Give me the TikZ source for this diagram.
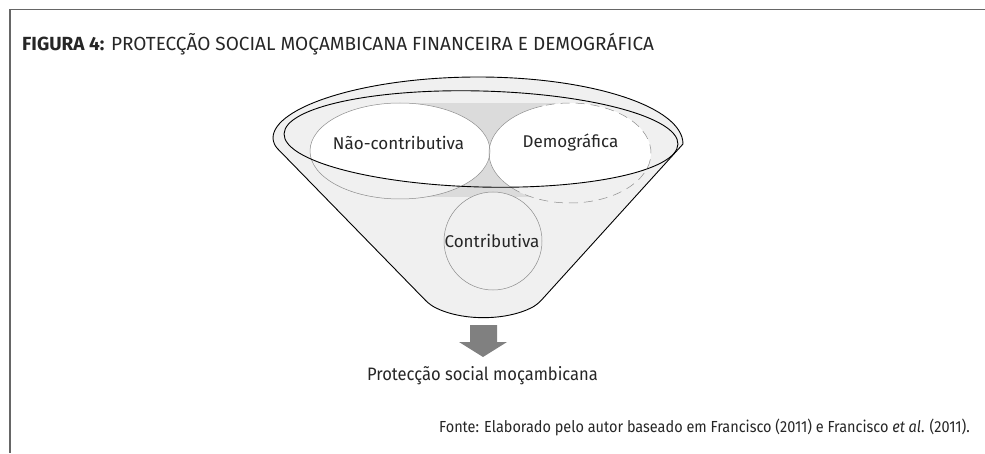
\documentclass[tikz,border=0pt]{standalone}
\usepackage{fontspec}
\setmainfont{Fira Sans}
\newfontfamily\condfont{Fira Sans}[FakeStretch=0.92]
\newfontfamily\srcfont{Fira Sans}[FakeStretch=0.905]
\begin{document}
\begin{tikzpicture}[x=1pt,y=1pt,
  lbl/.style={inner sep=0pt, font=\fontsize{17}{20}\selectfont, text=black!85},
  thin gray/.style={draw=black!45, line width=0.5pt},
  funnelline/.style={draw=black, line width=0.9pt}]
\useasboundingbox (0,0) rectangle (985,453);
% frame
\draw[black!60, line width=1.3pt] (985,443.5) -- (10,443.5) -- (10,0);
% title
\node[lbl, anchor=base west, font=\fontsize{19}{22}\selectfont] (title) at (22,402) {\textbf{FIGURA 4:} PROTECÇÃO SOCIAL MOÇAMBICANA FINANCEIRA E DEMOGRÁFICA};
% funnel
\path[fill=black!6] (273,309) arc[start angle=180, end angle=0, x radius=205, y radius=67]
  [rounded corners=6pt] -- (537,148) .. controls (505,132) and (462,132) .. (430,148) -- cycle;
% dark gray middle
\fill[black!14] (400,256) rectangle (570,350);
% ellipses light part
\fill[black!6] (400,302) ellipse[x radius=90, y radius=48];
\fill[black!6] (570,300) ellipse[x radius=81, y radius=50];
\begin{scope}
  \clip (481,314) [rotate around={-1.5:(481,314)}] ellipse[x radius=197, y radius=48];
  \fill[white] (400,302) ellipse[x radius=90, y radius=48];
  \fill[white] (570,300) ellipse[x radius=81, y radius=50];
\end{scope}
% circle
\fill[black!6] (493,212) circle[radius=49];
% outlines
\draw[thin gray] (400,302) ellipse[x radius=90, y radius=48];
\draw[thin gray] (570,300) ++(110:81 and 50) arc[start angle=110, end angle=224, x radius=81, y radius=50];
\draw[thin gray, dash pattern=on 9pt off 6pt] (570,300) ++(224:81 and 50) arc[start angle=224, end angle=470, x radius=81, y radius=50];
\draw[thin gray] (493,212) circle[radius=49];
\draw[funnelline] (481,314) [rotate around={-1.5:(481,314)}] ellipse[x radius=197, y radius=48];
\draw[funnelline] (273,309) arc[start angle=180, end angle=0, x radius=205, y radius=67]
  [rounded corners=6pt] -- (537,148) .. controls (505,132) and (462,132) .. (430,148) -- cycle;
% labels
\node[lbl] (nc) at (398.5,310) {Não-contributiva};
\node[lbl] (dem) at (570.5,310) {Demográfica};
\node[lbl] (con) at (492,212) {Contributiva};
% arrow
\fill[black!50] (470,128) -- (497,128) -- (497,111) -- (507,111) -- (483,96) -- (459,111) -- (470,111) -- cycle;
\node[lbl, anchor=base, font=\condfont\fontsize{18}{21}\selectfont] (out) at (482.5,72.3) {Protecção social moçambicana};
\node[lbl, anchor=base east, font=\srcfont\fontsize{16}{19}\selectfont] (src) at (970,21) {Fonte: Elaborado pelo autor baseado em Francisco (2011) e Francisco \textit{et al}. (2011).};
\end{tikzpicture}
\end{document}
